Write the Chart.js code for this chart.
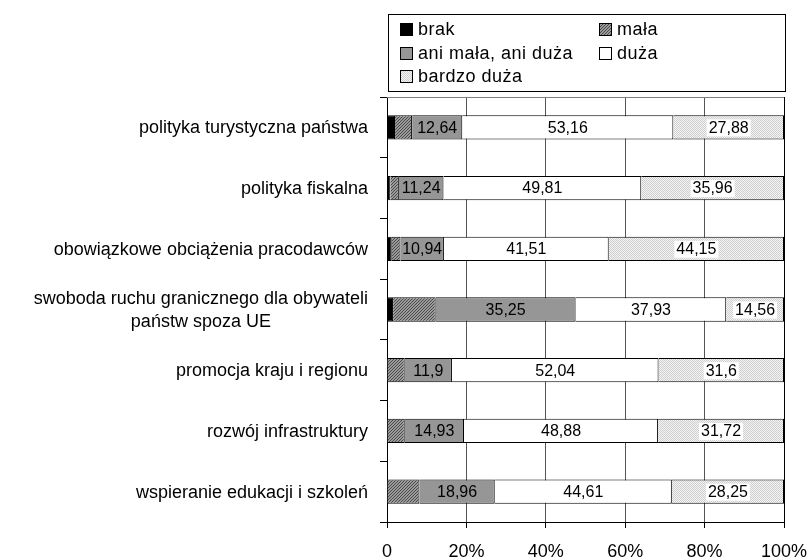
<!DOCTYPE html>
<html>
<head>
<meta charset="utf-8">
<script src="https://cdn.jsdelivr.net/npm/chart.js@4"></script>
<style>
  html, body { margin: 0; padding: 0; background: #fff; }
  #wrap { width: 811px; height: 560px; }
</style>
</head>
<body>
<div id="wrap"><canvas id="wykres" width="811" height="560"></canvas></div>
<script>
// Dane
let kategorie = [
    "polityka turystyczna państwa",
    "polityka fiskalna",
    "obowiązkowe obciążenia pracodawców",
    ["swoboda ruchu granicznego dla obywateli", "państw spoza UE"],
    "promocja kraju i regionu",
    "rozwój infrastruktury",
    "wspieranie edukacji i szkoleń"
];

let serie = ["brak", "mała", "ani mała, ani duża", "duża", "bardzo duża"];

let brak = [2.02, 0.84, 1.19, 1.53, 0, 0, 0];
let mala = [4.30, 2.15, 2.21, 10.73, 4.46, 4.47, 8.18];
let aniMalaAniDuza = [12.64, 11.24, 10.94, 35.25, 11.9, 14.93, 18.96];
let duza = [53.16, 49.81, 41.51, 37.93, 52.04, 48.88, 44.61];
let bardzoDuza = [27.88, 35.96, 44.15, 14.56, 31.6, 31.72, 28.25];

let osX = [0, 20, 40, 60, 80, 100];

const czcionka = "'Liberation Sans', Arial, sans-serif";

// Wzory (kreskowanie i kropki)
function wzorKreski() {
    let c = document.createElement("canvas");
    c.width = 3; c.height = 3;
    let g = c.getContext("2d");
    g.fillStyle = "#9a9a9a";
    g.fillRect(0, 0, 3, 3);
    g.fillStyle = "#4a4a4a";
    for (let i = 0; i < 3; i++) {
        g.fillRect(i, 2 - i, 1, 1);
    }
    return g.createPattern(c, "repeat");
}

function wzorKropki() {
    let c = document.createElement("canvas");
    c.width = 2; c.height = 2;
    let g = c.getContext("2d");
    g.fillStyle = "#f4f4f4";
    g.fillRect(0, 0, 2, 2);
    g.fillStyle = "#cfcfcf";
    g.fillRect(0, 0, 1, 1);
    g.fillRect(1, 1, 1, 1);
    return g.createPattern(c, "repeat");
}

let kolory = ["#000000", wzorKreski(), "#969696", "#ffffff", wzorKropki()];
let wartosci = [brak, mala, aniMalaAniDuza, duza, bardzoDuza];

let zbiory = [];
for (let i = 0; i < serie.length; i++) {
    zbiory.push({
        label: serie[i],
        data: wartosci[i],
        backgroundColor: kolory[i],
        borderColor: "#000000",
        borderWidth: 1,
        barPercentage: 0.4,
        categoryPercentage: 1.0
    });
}

function formatuj(v) {
    return String(v).replace(".", ",");
}

// Etykiety wartosci na slupkach
const etykiety = {
    id: "etykiety",
    afterDatasetsDraw(chart) {
        let ctx = chart.ctx;
        ctx.save();
        ctx.font = "16px " + czcionka;
        ctx.textAlign = "center";
        ctx.textBaseline = "middle";
        [2, 3, 4].forEach(function (d) {
            let meta = chart.getDatasetMeta(d);
            meta.data.forEach(function (bar, j) {
                let txt = formatuj(chart.data.datasets[d].data[j]);
                let cx = (bar.x + bar.base) / 2;
                let cy = bar.y;
                if (d === 4) {
                    let w = ctx.measureText(txt).width;
                    ctx.fillStyle = "#ffffff";
                    ctx.fillRect(cx - w / 2 - 2, cy - 8, w + 4, 17);
                }
                ctx.fillStyle = "#000000";
                ctx.fillText(txt, cx, cy + 1);
            });
        });
        ctx.restore();
    }
};

// Etykiety kategorii (wiersze wyśrodkowane w bloku, blok do prawej)
const kategorieOs = {
    id: "kategorieOs",
    afterDraw(chart) {
        let ctx = chart.ctx;
        let y = chart.scales.y;
        ctx.save();
        ctx.font = "18px " + czcionka;
        ctx.fillStyle = "#000000";
        ctx.textAlign = "center";
        ctx.textBaseline = "middle";
        let prawa = 368;
        kategorie.forEach(function (lab, i) {
            let linie = Array.isArray(lab) ? lab : [lab];
            let szer = Math.max.apply(null, linie.map(function (l) { return ctx.measureText(l).width; }));
            let srodekX = prawa - szer / 2;
            let cy = y.getPixelForValue(i);
            let h = 23;
            linie.forEach(function (l, k) {
                ctx.fillText(l, srodekX, cy + (k - (linie.length - 1) / 2) * h + 1);
            });
        });
        ctx.restore();
    }
};

// Ramka obszaru i legenda
const ramka = {
    id: "ramka",
    afterDraw(chart) {
        let ctx = chart.ctx;
        let a = chart.chartArea;
        ctx.save();
        ctx.strokeStyle = "#808080";
        ctx.lineWidth = 1;
        ctx.beginPath();
        ctx.moveTo(a.left, a.top + 0.5);
        ctx.lineTo(a.right, a.top + 0.5);
        ctx.stroke();
        ctx.strokeStyle = "#000000";
        ctx.beginPath();
        ctx.moveTo(a.right + 0.5, a.top);
        ctx.lineTo(a.right + 0.5, a.bottom);
        ctx.stroke();

        // legenda
        ctx.strokeRect(388.5, 14.5, 397, 77);
        ctx.font = "18px " + czcionka;
        ctx.letterSpacing = "0.5px";
        ctx.textBaseline = "middle";
        ctx.textAlign = "left";
        let kolumny = [400, 599];
        let wiersze = [29, 53, 76];
        chart.data.datasets.forEach(function (ds, i) {
            let x = kolumny[i % 2];
            let y = wiersze[Math.floor(i / 2)];
            ctx.fillStyle = ds.backgroundColor;
            ctx.fillRect(x, y - 6, 13, 13);
            ctx.strokeStyle = "#000000";
            ctx.strokeRect(x + 0.5, y - 5.5, 12, 12);
            ctx.fillStyle = "#000000";
            ctx.fillText(ds.label, x + 18, y + 1);
        });
        ctx.restore();
    }
};

new Chart(document.getElementById("wykres"), {
    type: "bar",
    data: {
        labels: kategorie,
        datasets: zbiory
    },
    options: {
        indexAxis: "y",
        responsive: false,
        animation: false,
        layout: {
            padding: { top: 97, right: 27, left: 0, bottom: 0 }
        },
        plugins: {
            legend: { display: false },
            tooltip: { enabled: false }
        },
        scales: {
            x: {
                stacked: true,
                min: 0,
                max: 100,
                afterBuildTicks: function (axis) {
                    axis.ticks = osX.map(function (v) { return { value: v }; });
                },
                afterFit: function (scale) {
                    scale.height = 38;
                    scale.paddingLeft = 0;
                    scale.paddingRight = 0;
                },
                grid: {
                    color: "#555555",
                    tickLength: 6,
                    tickColor: "#000000"
                },
                border: { display: true, color: "#000000" },
                ticks: {
                    color: "#000000",
                    font: { family: czcionka, size: 18 },
                    padding: 13,
                    maxRotation: 0,
                    callback: function (v) { return v === 0 ? "0" : v + "%"; }
                }
            },
            y: {
                stacked: true,
                afterFit: function (scale) { scale.width = 387; },
                grid: {
                    drawOnChartArea: false,
                    offset: true,
                    tickLength: 7,
                    color: "#000000"
                },
                border: { display: true, color: "#000000" },
                ticks: { display: false }
            }
        }
    },
    plugins: [etykiety, kategorieOs, ramka]
});
</script>
</body>
</html>
